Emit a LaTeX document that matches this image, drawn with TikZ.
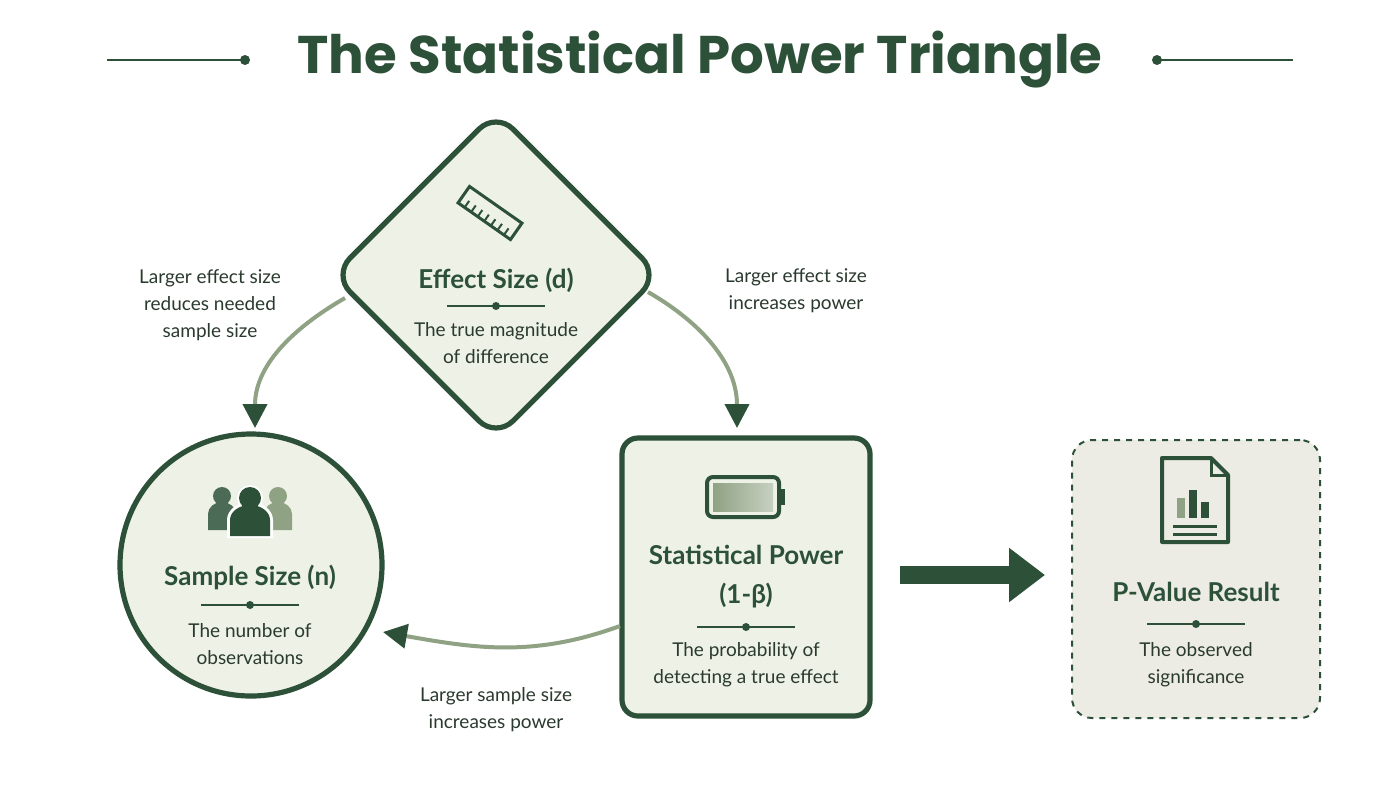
\documentclass[tikz,border=0pt]{standalone}
\usepackage{fontspec}
\setmainfont{Lato}
\newfontfamily\titlefont{Poppins}
\usetikzlibrary{shapes.geometric,arrows.meta}
\definecolor{dg}{HTML}{2C5138}
\definecolor{lg}{HTML}{8FA283}
\definecolor{fillg}{HTML}{EEF1E6}
\definecolor{fillgr}{HTML}{ECECE5}
\definecolor{txt}{HTML}{2A3A2E}
\begin{document}
\begin{tikzpicture}[x=0.5pt,y=-0.5pt,
  head/.style={font=\fontsize{13}{19.5}\selectfont\bfseries, text=dg},
  body/.style={font=\fontsize{9.5}{13.5}\selectfont, text=txt, align=center},
  lab/.style={font=\fontsize{9.5}{13.5}\selectfont, text=txt, align=center},
  conn/.style={draw=lg, line width=2pt, -{Triangle[length=12pt,width=12pt,fill=dg,color=dg]}},
  sep/.style={draw=dg, line width=0.6pt}]
\useasboundingbox[fill=white] (0,0) rectangle (1400,788);
% title
\node[font=\titlefont\fontsize{26.5}{30}\selectfont\bfseries, text=dg] (T) at (700,60) {The Statistical Power Triangle};
\coordinate (tl1) at (107,60); \coordinate (tl2) at (245,60);
\coordinate (tr1) at (1157,60); \coordinate (tr2) at (1293,60);
\draw[dg, line width=1.2pt] (tl1) -- (tl2); \fill[dg] (tl2) circle (5);
\draw[dg, line width=1.2pt] (tr1) -- (tr2); \fill[dg] (tr1) circle (5);
% diamond
\node[diamond, shape aspect=1, minimum width=164pt, minimum height=164pt, rounded corners=12pt, draw=dg, line width=2.6pt, fill=fillg] (D) at (496,275) {};
\begin{scope}[shift={(490,213)}, rotate=-35]
\draw[dg, line width=1.5pt, fill=fillg] (-32,-10) rectangle (32,10);
\foreach \x in {-24,-16,...,24}{\draw[dg, line width=1pt] (\x,10) -- (\x,2);}
\end{scope}
\node[head] (Dh) at (496,280) {Effect Size (d)};
\draw[sep] (447,306) -- (545,306); \fill[dg] (496,306) circle (4);
\node[body] (Db) at (496,343) {The true magnitude\\of difference};
% circle
\node[circle, minimum size=131pt, draw=dg, line width=2.6pt, fill=fillg] (C) at (251,565) {};
\begin{scope}[shift={(250,510)}]
\fill[lg] (28,-14) circle (9); \fill[lg] (14,20) -- (14,4) arc (180:360:14 and 12) -- (42,20) -- cycle;
\fill[dg!85] (-28,-14) circle (9); \fill[dg!85] (-42,20) -- (-42,4) arc (180:360:14 and 12) -- (-14,20) -- cycle;
\fill[white] (0,-12) circle (13); \fill[white] (-23,28) -- (-23,10) arc (180:360:23 and 18) -- (23,28) -- cycle;
\fill[dg] (0,-12) circle (11); \fill[dg] (-20,26) -- (-20,10) arc (180:360:20 and 15) -- (20,26) -- cycle;
\end{scope}
\node[head] (Ch) at (250,577) {Sample Size (n)};
\draw[sep] (201,605) -- (299,605); \fill[dg] (250,605) circle (4);
\node[body] (Cb) at (250,644) {The number of\\observations};
% power rect
\node[rectangle, rounded corners=8pt, minimum width=124pt, minimum height=139pt, draw=dg, line width=2.6pt, fill=fillg] (P) at (746,577) {};
\begin{scope}[shift={(745,497)}]
\draw[dg, line width=2pt, rounded corners=3pt] (-38,-20) rectangle (34,20);
\fill[dg] (34,-8) rectangle (40,8);
\shade[left color=lg, right color=lg!50] (-32,-14) rectangle (28,14);
\end{scope}
\node[head, align=center] (Ph) at (746,577) {Statistical Power\\(1-β)};
\draw[sep] (697,627) -- (795,627); \fill[dg] (746,627) circle (4);
\node[body] (Pb) at (746,665) {The probability of\\detecting a true effect};
% pvalue rect
\node[rectangle, rounded corners=10pt, minimum width=124pt, minimum height=139pt, draw=dg, dashed, line width=1pt, fill=fillgr] (V) at (1196,579) {};
\begin{scope}[shift={(1195,500)}]
\draw[dg, line width=2pt, line join=round] (-33,-42) -- (16,-42) -- (33,-25) -- (33,42) -- (-33,42) -- cycle;
\draw[dg, line width=1.5pt] (16,-42) -- (16,-25) -- (33,-25);
\fill[lg] (-18,-2) rectangle (-10,18);
\fill[dg] (-6,-10) rectangle (2,18);
\fill[dg] (6,2) rectangle (14,18);
\draw[dg, line width=1.5pt] (-22,26) -- (22,26) (-22,34) -- (22,34);
\end{scope}
\node[head] (Vh) at (1196,592) {P-Value Result};
\draw[sep] (1147,624) -- (1245,624); \fill[dg] (1196,624) circle (4);
\node[body] (Vb) at (1196,665) {The observed\\significance};
% big arrow
\coordinate (a1) at (900,575); \coordinate (a2) at (1045,575);
\draw[dg, line width=9pt, -{Triangle[length=18pt,width=26pt]}] (a1) -- (a2);
% curved connectors
\coordinate (c1s) at (345,298); \coordinate (c1e) at (255,428);
\draw[conn] (c1s) to[out=210, in=90] (c1e);
\coordinate (c2s) at (648,292); \coordinate (c2e) at (737,428);
\draw[conn] (c2s) to[out=-30, in=90] (c2e);
\coordinate (c3s) at (620,626); \coordinate (c3e) at (383,632);
\draw[conn] (c3s) to[out=200, in=-10] (c3e);
% labels
\node[lab] (L1) at (210,305) {Larger effect size\\reduces needed\\sample size};
\node[lab] (L2) at (796,291) {Larger effect size\\increases power};
\node[lab] (L3) at (496,710) {Larger sample size\\increases power};
\end{tikzpicture}
\end{document}
